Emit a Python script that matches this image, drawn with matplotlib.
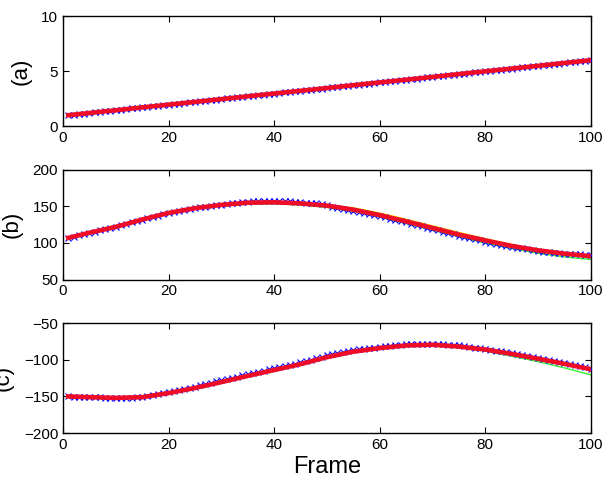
import numpy as np
import matplotlib.pyplot as plt

plt.rcParams['font.family'] = ['Liberation Sans', 'DejaVu Sans']

# frame numbers for the measured points (x markers) and for the fitted curves
frames = np.arange(1, 101)
line_frames = [1, 5, 10, 15, 20, 25, 30, 35, 40, 45, 50,
               55, 60, 65, 70, 75, 80, 85, 90, 95, 100]

# (a) measured
a_meas = [1.00, 1.05, 1.10, 1.15, 1.20, 1.25, 1.30, 1.35, 1.40, 1.45,
          1.51, 1.56, 1.61, 1.66, 1.71, 1.76, 1.81, 1.86, 1.91, 1.96,
          2.01, 2.06, 2.11, 2.16, 2.21, 2.26, 2.31, 2.36, 2.41, 2.46,
          2.52, 2.57, 2.62, 2.67, 2.72, 2.77, 2.82, 2.87, 2.92, 2.97,
          3.02, 3.07, 3.12, 3.17, 3.22, 3.27, 3.32, 3.37, 3.42, 3.47,
          3.53, 3.58, 3.63, 3.68, 3.73, 3.78, 3.83, 3.88, 3.93, 3.98,
          4.03, 4.08, 4.13, 4.18, 4.23, 4.28, 4.33, 4.38, 4.43, 4.48,
          4.54, 4.59, 4.64, 4.69, 4.74, 4.79, 4.84, 4.89, 4.94, 4.99,
          5.04, 5.09, 5.14, 5.19, 5.24, 5.29, 5.34, 5.39, 5.44, 5.49,
          5.55, 5.60, 5.65, 5.70, 5.75, 5.80, 5.85, 5.90, 5.95, 6.00]
a_red = [1.00, 1.20, 1.45, 1.71, 1.96, 2.21, 2.46, 2.72, 2.97, 3.22, 3.47,
         3.73, 3.98, 4.23, 4.48, 4.74, 4.99, 5.24, 5.49, 5.75, 6.00]
a_green = a_red
a_yellow = a_red

# (b) measured
b_meas = [106.5, 108.7, 110.5, 112.2, 114.0, 115.6, 117.2, 118.8, 120.4, 122.0,
          124.0, 126.0, 128.0, 130.0, 132.0, 133.8, 135.6, 137.4, 139.2, 141.0,
          142.3, 143.6, 144.9, 146.2, 147.5, 148.5, 149.5, 150.5, 151.5, 152.5,
          153.3, 154.1, 154.9, 155.6, 156.2, 156.6, 156.9, 157.1, 157.2, 157.2,
          157.1, 157.0, 156.7, 156.3, 155.8, 155.2, 154.6, 153.9, 153.0, 151.8,
          149.4, 148.0, 146.8, 145.4, 144.0, 142.5, 141.0, 139.5, 138.0, 136.5,
          134.8, 133.1, 131.4, 129.7, 128.0, 126.2, 124.4, 122.6, 120.8, 119.0,
          117.2, 115.4, 113.6, 111.8, 110.0, 108.4, 106.8, 105.2, 103.6, 102.0,
          100.5, 99.0, 97.5, 96.0, 94.5, 93.6, 92.5, 91.4, 90.2, 89.0,
          87.8, 87.1, 86.5, 86.0, 85.5, 85.0, 84.6, 84.3, 84.1, 84.0]
b_red = [107, 114, 122, 132, 141, 147.5, 152, 155, 155.5, 154, 151,
         145.5, 138, 129.5, 120.5, 111.5, 103.5, 96, 90, 85.5, 82]
b_green = [107, 114, 122, 131.5, 140, 146.5, 150.5, 153, 153.5, 152, 148.5,
           143, 135.5, 126.5, 117.5, 108.5, 100, 92.5, 86, 81, 77.5]
b_yellow = [107, 114, 122, 132, 141, 147.5, 152, 155, 155.5, 154, 152,
            148, 141, 132.5, 123.5, 114.5, 106, 98, 90.5, 85.5, 82]

# (c) measured
c_meas = [-150.0, -150.3, -150.5, -150.8, -151.0, -151.2, -151.4, -151.6, -151.8, -152.0,
          -152.0, -151.9, -151.7, -151.4, -151.0, -149.0, -148.0, -147.0, -145.8, -144.5,
          -143.2, -141.8, -140.4, -139.0, -137.5, -134.4, -132.8, -131.2, -129.6, -128.0,
          -126.3, -124.6, -122.9, -121.2, -119.5, -117.9, -116.3, -114.7, -113.1, -111.5,
          -109.9, -108.3, -106.7, -105.1, -103.5, -101.6, -99.7, -97.8, -95.9, -94.0,
          -92.5, -91.0, -89.5, -88.0, -86.5, -85.7, -84.9, -84.1, -83.3, -82.5,
          -81.8, -81.1, -80.4, -79.7, -79.0, -78.7, -78.5, -78.3, -78.1, -78.0,
          -78.3, -78.7, -79.2, -79.8, -80.5, -81.8, -82.6, -83.4, -84.2, -85.0,
          -86.2, -87.4, -88.6, -89.8, -91.0, -92.3, -93.6, -94.9, -96.2, -97.5,
          -98.9, -100.3, -101.7, -103.1, -104.5, -106.0, -107.5, -109.0, -110.5, -112.0]
c_red = [-150, -151, -152, -151, -145.5, -138.5, -130.5, -122, -114, -106, -96.5,
         -89, -84, -80.5, -79.5, -82, -86, -92, -98.5, -105.5, -113]
c_green = [-150, -151, -152, -151, -145.5, -138.5, -130.5, -122, -114, -106, -96.5,
           -89, -84, -80.5, -80, -82.5, -88, -95, -102.5, -111, -120.5]
c_yellow = c_red

panels = [
    ('(a)', a_meas, a_red, a_green, a_yellow, [0, 10], [0, 5, 10]),
    ('(b)', b_meas, b_red, b_green, b_yellow, [50, 200], [50, 100, 150, 200]),
    ('(c)', c_meas, c_red, c_green, c_yellow, [-200, -50], [-200, -150, -100, -50]),
]

fig = plt.figure(figsize=(6.08, 4.78), dpi=100)
bottoms = [0.736, 0.415, 0.094]

for (lab, meas, red, green, yellow, ylim, yticks), bot in zip(panels, bottoms):
    ax = fig.add_axes([0.1036, bot, 0.868, 0.230])
    ax.plot(line_frames, green, color=(0.2, 0.95, 0.2), lw=1.0, zorder=2)
    ax.plot(line_frames, yellow, color=(1.0, 0.85, 0.0), lw=1.0, zorder=2)
    ax.plot(frames, meas, ls='none', marker='x', color='blue',
            ms=5, mew=0.8, zorder=3)
    ax.plot(line_frames, red, color=(0.93, 0.05, 0.15), lw=3.3, zorder=4)
    ax.set_xlim(0, 100)
    ax.set_ylim(*ylim)
    ax.set_xticks([0, 20, 40, 60, 80, 100])
    ax.set_yticks(yticks)
    ax.tick_params(direction='in', top=True, right=True, length=4,
                   labelsize=11, width=0.8)
    ax.set_ylabel(lab, fontsize=16, labelpad=7)
    for s in ax.spines.values():
        s.set_linewidth(1.0)
    if lab == '(c)':
        ax.set_xlabel('Frame', fontsize=17, labelpad=3)

fig.savefig('out.png', dpi=100)
